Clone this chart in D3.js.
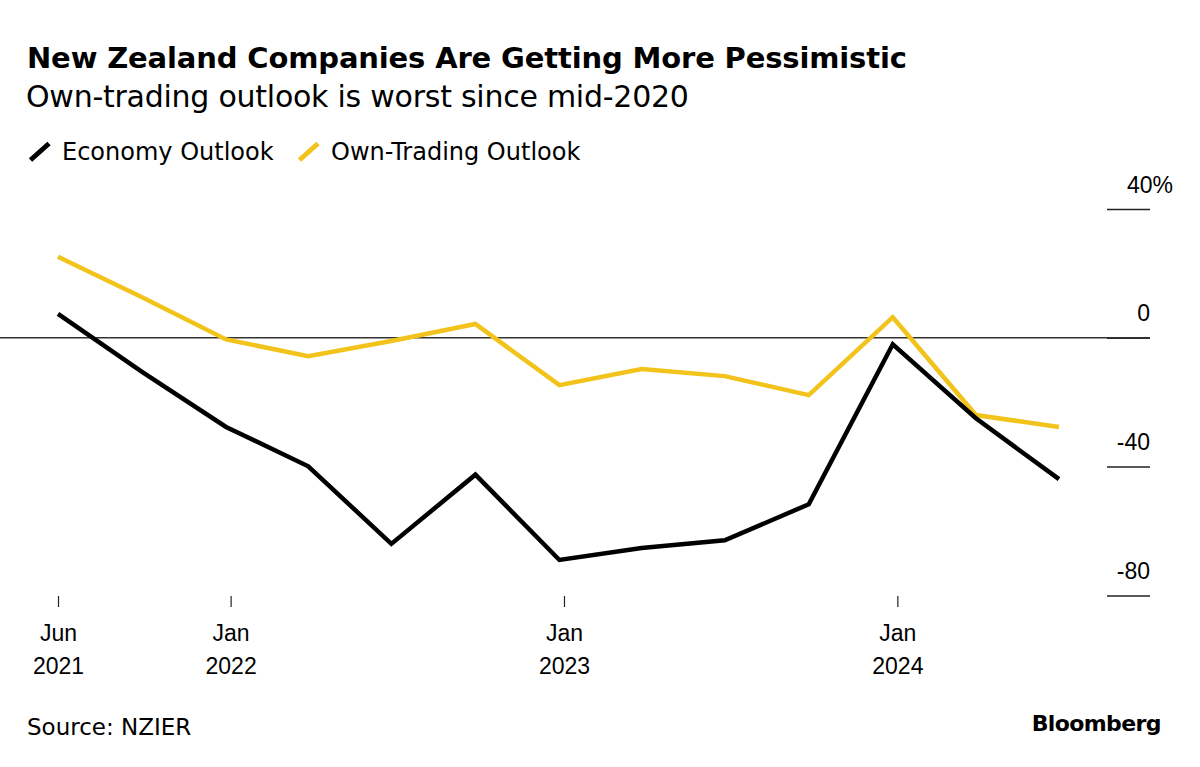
<!DOCTYPE html>
<html>
<head>
<meta charset="utf-8">
<script src="https://cdn.jsdelivr.net/npm/d3@7"></script>
<style>
  html, body { margin: 0; padding: 0; background: #ffffff; }
  svg { display: block; font-family: "DejaVu Sans", "Liberation Sans", Arial, sans-serif; }
</style>
</head>
<body>
<svg id="chart" width="1200" height="767"></svg>
<script>
// ---- data ----
const dates = ["2021-06-30","2021-09-30","2021-12-31","2022-03-31","2022-06-30","2022-09-30",
               "2022-12-31","2023-03-31","2023-06-30","2023-09-30","2023-12-31","2024-03-31","2024-06-30"];
const economyOutlook = [7.4, -10.6, -27.7, -39.9, -64, -42.5, -69, -65.3, -62.9, -51.7, -2, -25, -43.9];
const ownTradingOutlook = [25.2, 12.6, -0.5, -5.7, -1, 4.3, -14.7, -9.7, -11.9, -17.8, 6.4, -24, -27.7];
const yTicks = [40, 0, -40, -80];
const yTickLabels = ["40%", "0", "-40", "-80"];
const xTickDates = ["2021-06-30", "2022-01-05", "2023-01-05", "2024-01-05"];
const xTickLabels = [["Jun", "2021"], ["Jan", "2022"], ["Jan", "2023"], ["Jan", "2024"]];
const seriesNames = ["Economy Outlook", "Own-Trading Outlook"];
const seriesColors = ["#000000", "#F2C31A"];

// ---- setup ----
const svg = d3.select("#chart");
const parse = d3.utcParse("%Y-%m-%d");
const xDates = dates.map(parse);

const x = d3.scaleUtc()
  .domain([parse("2021-06-30"), parse("2024-06-30")])
  .range([58, 1059]);
const y = d3.scaleLinear()
  .domain([-80, 40])
  .range([595.4, 209]);

// ---- titles ----
svg.append("text").attr("x", 27).attr("y", 68)
  .attr("font-size", 29).attr("font-weight", "bold").attr("fill", "#000")
  .attr("letter-spacing", -0.15)
  .text("New Zealand Companies Are Getting More Pessimistic");
svg.append("text").attr("x", 26).attr("y", 107)
  .attr("font-size", 30).attr("fill", "#000")
  .attr("letter-spacing", -0.25)
  .text("Own-trading outlook is worst since mid-2020");

// ---- legend ----
const legend = svg.append("g");
const legendX = [28, 297];
seriesNames.forEach((name, i) => {
  const g = legend.append("g").attr("transform", `translate(${legendX[i]},0)`);
  g.append("line").attr("x1", 2.5).attr("y1", 160).attr("x2", 21).attr("y2", 143.5)
    .attr("stroke", seriesColors[i]).attr("stroke-width", 5).attr("stroke-linecap", "butt");
  g.append("text").attr("x", 34).attr("y", 160)
    .attr("font-size", 24).attr("fill", "#000").attr("letter-spacing", 0)
    .text(name);
});

// ---- y axis (right) ----
const yAxis = d3.axisRight(y).tickValues(yTicks).tickSize(0).tickFormat("");
const yAxisG = svg.append("g").attr("transform", "translate(1150,0)").call(yAxis);
yAxisG.select(".domain").remove();
yAxisG.selectAll(".tick").each(function(d, i) {
  const t = d3.select(this);
  t.append("line").attr("x1", -43).attr("x2", 0).attr("y1", 0).attr("y2", 0)
    .attr("stroke", "#222").attr("stroke-width", 1.5);
  t.append("text").attr("x", d === 40 ? 23 : 0).attr("y", -17)
    .attr("text-anchor", "end").attr("font-size", 23).attr("fill", "#000")
    .text(yTickLabels[i]);
});

// zero line
svg.append("line")
  .attr("x1", 0).attr("x2", 1150)
  .attr("y1", y(0)).attr("y2", y(0))
  .attr("stroke", "#333").attr("stroke-width", 1.5);

// ---- x axis ----
const xAxis = d3.axisBottom(x).tickValues(xTickDates.map(parse)).tickSize(11).tickFormat("");
const xAxisG = svg.append("g").attr("transform", "translate(0,596)").call(xAxis);
xAxisG.select(".domain").remove();
xAxisG.selectAll(".tick line").attr("stroke", "#222").attr("stroke-width", 1.2);
xAxisG.selectAll(".tick").each(function(d, i) {
  const t = d3.select(this);
  t.append("text").attr("y", 45).attr("text-anchor", "middle")
    .attr("font-size", 23).attr("fill", "#000")
    .text(xTickLabels[i][0]);
  t.append("text").attr("y", 78).attr("text-anchor", "middle")
    .attr("font-size", 23).attr("fill", "#000")
    .text(xTickLabels[i][1]);
});

// ---- lines ----
const line = d3.line().x((d, i) => x(xDates[i])).y(d => y(d));
[ownTradingOutlook, economyOutlook].forEach((vals, k) => {
  svg.append("path")
    .datum(vals)
    .attr("d", line)
    .attr("fill", "none")
    .attr("stroke", k === 0 ? seriesColors[1] : seriesColors[0])
    .attr("stroke-width", 4.5)
    .attr("stroke-linejoin", "miter")
    .attr("stroke-linecap", "butt");
});

// ---- footer ----
svg.append("text").attr("x", 27).attr("y", 735)
  .attr("font-size", 23).attr("fill", "#000")
  .text("Source: NZIER");
svg.append("text").attr("x", 1161).attr("y", 731)
  .attr("text-anchor", "end")
  .attr("font-size", 22).attr("font-weight", "bold").attr("fill", "#000")
  .attr("letter-spacing", -0.6)
  .text("Bloomberg");
</script>
</body>
</html>
